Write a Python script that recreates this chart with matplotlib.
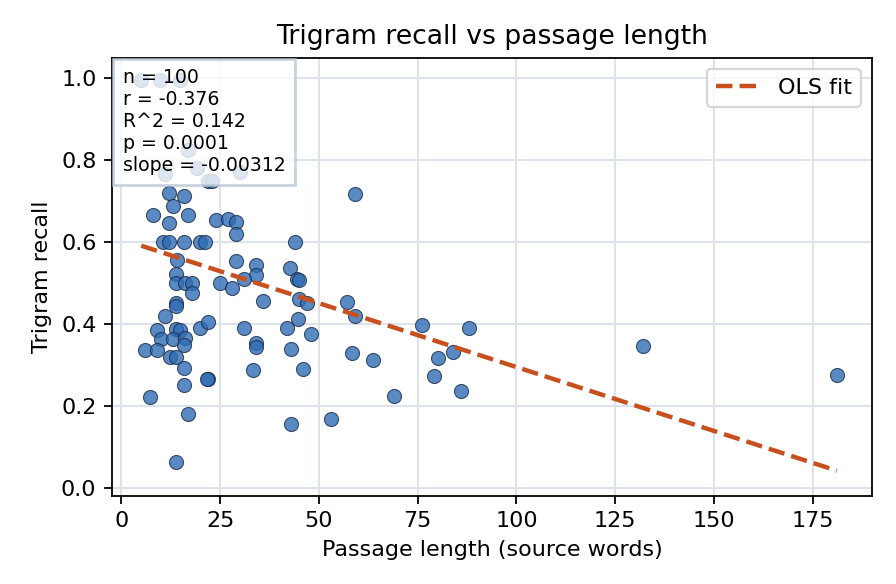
import matplotlib
matplotlib.use("Agg")
import matplotlib.pyplot as plt
import numpy as np

# passage length (source words) and trigram recall
words = [5.0, 9.8, 14.8, 16.9, 11.0, 19.1, 30.0, 12.1, 15.9, 13.1,
         8.1, 16.9, 12.1, 23.9, 27.0, 29.0, 29.0, 10.6, 12.1, 15.9,
         19.9, 21.2, 14.0, 29.0, 34.1, 13.8, 13.8, 16.1, 17.8, 17.9,
         24.9, 28.1, 34.1, 31.1, 35.9, 13.8, 13.8, 11.0, 19.9, 22.0,
         31.1, 34.1, 34.1, 9.1, 13.7, 14.8, 9.9, 13.1, 16.1, 15.8,
         6.0, 9.1, 12.3, 13.8, 15.8, 22.0, 21.7, 15.8, 7.1, 16.9,
         13.8, 33.2, 59.1, 43.9, 42.8, 44.4, 45.0, 45.0, 46.9, 57.0,
         59.1, 44.8, 42.0, 48.0, 42.9, 58.3, 63.7, 46.0, 42.9, 53.0,
         88.0, 76.1, 84.0, 80.2, 79.2, 85.9, 69.1, 132.1, 181.1, 22.0,
         23.0]
recall = [0.995, 0.995, 0.997, 0.826, 0.765, 0.782, 0.772, 0.720, 0.712, 0.687,
          0.667, 0.667, 0.647, 0.655, 0.656, 0.650, 0.620, 0.599, 0.599, 0.599,
          0.599, 0.599, 0.557, 0.553, 0.544, 0.522, 0.500, 0.500, 0.500, 0.475,
          0.501, 0.487, 0.520, 0.509, 0.455, 0.451, 0.444, 0.419, 0.389, 0.404,
          0.389, 0.353, 0.343, 0.385, 0.387, 0.385, 0.363, 0.363, 0.365, 0.349,
          0.335, 0.335, 0.320, 0.318, 0.292, 0.265, 0.265, 0.251, 0.222, 0.181,
          0.063, 0.287, 0.718, 0.599, 0.536, 0.509, 0.508, 0.461, 0.451, 0.453,
          0.420, 0.411, 0.389, 0.376, 0.338, 0.328, 0.312, 0.289, 0.155, 0.167,
          0.389, 0.398, 0.331, 0.316, 0.273, 0.236, 0.224, 0.346, 0.274, 0.748,
          0.748]

# OLS fit parameters and summary stats as printed on the chart
fit_slope = -0.00312
fit_intercept = 0.6066
stats_lines = ["n = 100", "r = -0.376", "R^2 = 0.142", "p = 0.0001",
               "slope = -0.00312"]

fig = plt.figure(figsize=(5.6, 3.65), dpi=160)
ax = fig.add_axes([0.125, 0.151, 0.848, 0.750])

ax.grid(True, color='#dde3ec', lw=0.9, zorder=0)
ax.set_axisbelow(True)

ax.scatter(words, recall, s=40, color='#2f6db5', alpha=0.8,
           edgecolor='#1c2c48', linewidth=0.5, zorder=3)

xs = np.array([min(words), max(words)])
ax.plot(xs, fit_intercept + fit_slope * xs, '--', color='#c8501e', lw=2,
        label='OLS fit', zorder=4)

ax.text(0.014, 0.976, "\n".join(stats_lines), transform=ax.transAxes,
        va='top', ha='left', fontsize=8.5, zorder=5,
        bbox=dict(boxstyle='square,pad=0.5', facecolor='white',
                  edgecolor='#b8c4d4', alpha=0.8, lw=1.2))

ax.set_xlim(-2.4, 190)
ax.set_ylim(-0.02, 1.05)
ax.set_xticks([0, 25, 50, 75, 100, 125, 150, 175])
ax.set_yticks([0.0, 0.2, 0.4, 0.6, 0.8, 1.0])
ax.set_xlabel('Passage length (source words)')
ax.set_ylabel('Trigram recall')
ax.set_title('Trigram recall vs passage length', fontsize=12)
ax.legend(loc='upper right')

fig.savefig('out.png', dpi=160)
